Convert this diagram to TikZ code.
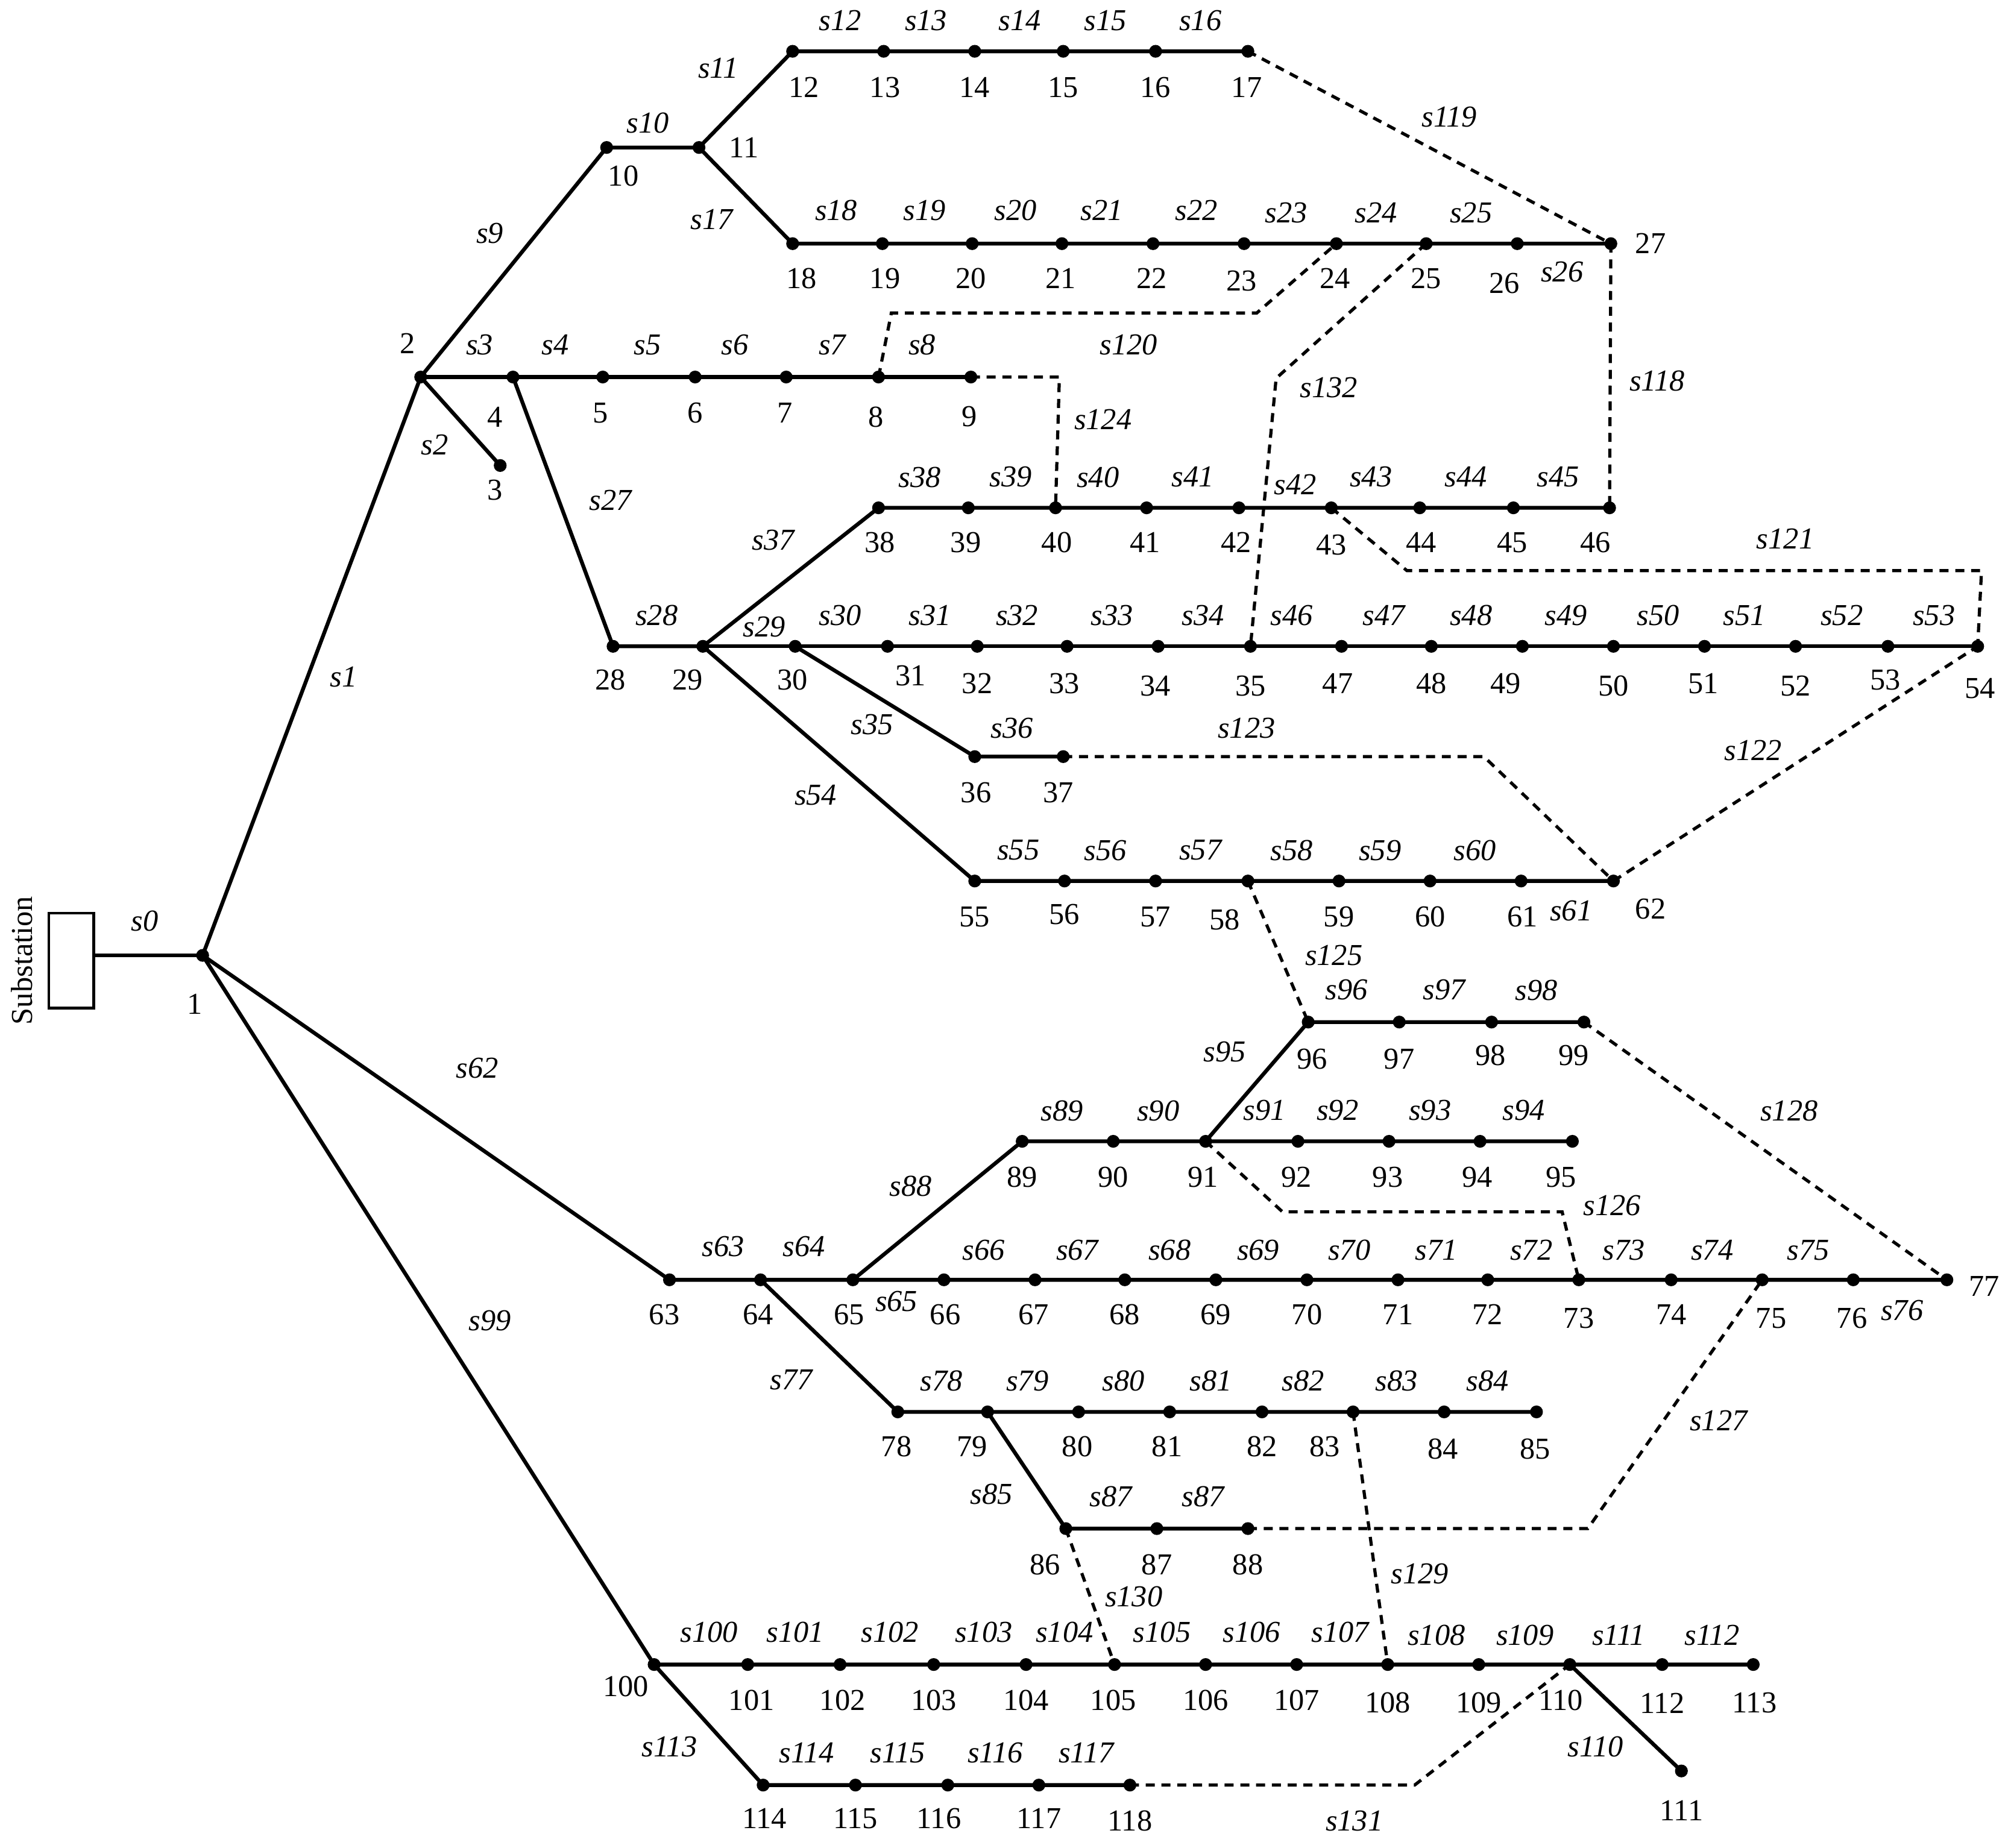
\documentclass[tikz,border=0pt]{standalone}
\usepackage{fontspec}
\setmainfont{Liberation Serif}
\begin{document}
\begin{tikzpicture}[x=0.02cm,y=-0.02cm,
  ln/.style={line width=1.7pt},
  dl/.style={line width=1.4pt,dash pattern=on 4pt off 3pt},
  lab/.style={font=\fontsize{13.5}{15}\selectfont,inner sep=0pt},
  elab/.style={font=\fontsize{13.5}{15}\selectfont\itshape,inner sep=0pt}]
\useasboundingbox (0,0) rectangle (1568,1441);
\foreach \n/\x/\y in {1/158/745,2/328/294,3/390/363,4/400/294,5/470/294,6/542/294,7/613/294,8/685/294,9/757/294,
10/473/115,11/545/115,12/618/40,13/689/40,14/760/40,15/829/40,16/901/40,17/973/40,
18/618/190,19/688/190,20/758/190,21/828/190,22/899/190,23/970/190,24/1042/190,25/1112/190,26/1183/190,27/1256/190,
28/478/504,29/548/504,30/620/504,31/692/504,32/762/504,33/832/504,34/903/504,35/975/504,47/1046/504,48/1116/504,49/1187/504,50/1258/504,51/1329/504,52/1400/504,53/1472/504,54/1542/504,
38/685/396,39/755/396,40/823/396,41/894/396,42/966/396,43/1038/396,44/1107/396,45/1180/396,46/1255/396,
36/760/590,37/829/590,
55/760/687,56/830/687,57/901/687,58/973/687,59/1044/687,60/1115/687,61/1186/687,62/1258/687,
96/1020/797,97/1091/797,98/1163/797,99/1235/797,
89/797/890,90/868/890,91/940/890,92/1012/890,93/1083/890,94/1154/890,95/1226/890,
63/522/998,64/593/998,65/665/998,66/736/998,67/807/998,68/877/998,69/948/998,70/1019/998,71/1090/998,72/1160/998,73/1231/998,74/1303/998,75/1374/998,76/1445/998,77/1518/998,
78/700/1101,79/770/1101,80/841/1101,81/912/1101,82/984/1101,83/1055/1101,84/1126/1101,85/1198/1101,
86/831/1192,87/902/1192,88/973/1192,
100/510/1298,101/583/1298,102/655/1298,103/728/1298,104/800/1298,105/869/1298,106/940/1298,107/1011/1298,108/1082/1298,109/1153/1298,110/1224/1298,112/1296/1298,113/1367/1298,
111/1311/1381,114/595/1392,115/667/1392,116/739/1392,117/810/1392,118/881/1392}
  \coordinate (n\n) at (\x,\y);
% substation
\draw[line width=1.2pt] (38,712) rectangle (73,786);
\coordinate (sub) at (73,745);
\node[lab,rotate=90] (subl) at (17,749) {Substation};
% solid lines
\draw[ln] (sub) -- (n1);
\draw[ln] (n1) -- (n2) -- (n3);
\draw[ln] (n2) -- (n4) -- (n5) -- (n6) -- (n7) -- (n8) -- (n9);
\draw[ln] (n2) -- (n10) -- (n11) -- (n12) -- (n13) -- (n14) -- (n15) -- (n16) -- (n17);
\draw[ln] (n11) -- (n18) -- (n19) -- (n20) -- (n21) -- (n22) -- (n23) -- (n24) -- (n25) -- (n26) -- (n27);
\draw[ln] (n4) -- (n28) -- (n29) -- (n38) -- (n39) -- (n40) -- (n41) -- (n42) -- (n43) -- (n44) -- (n45) -- (n46);
\draw[ln] (n29) -- (n30) -- (n31) -- (n32) -- (n33) -- (n34) -- (n35) -- (n47) -- (n48) -- (n49) -- (n50) -- (n51) -- (n52) -- (n53) -- (n54);
\draw[ln] (n30) -- (n36) -- (n37);
\draw[ln] (n29) -- (n55) -- (n56) -- (n57) -- (n58) -- (n59) -- (n60) -- (n61) -- (n62);
\draw[ln] (n1) -- (n63) -- (n64) -- (n65) -- (n66) -- (n67) -- (n68) -- (n69) -- (n70) -- (n71) -- (n72) -- (n73) -- (n74) -- (n75) -- (n76) -- (n77);
\draw[ln] (n64) -- (n78) -- (n79) -- (n80) -- (n81) -- (n82) -- (n83) -- (n84) -- (n85);
\draw[ln] (n79) -- (n86) -- (n87) -- (n88);
\draw[ln] (n65) -- (n89) -- (n90) -- (n91) -- (n92) -- (n93) -- (n94) -- (n95);
\draw[ln] (n91) -- (n96) -- (n97) -- (n98) -- (n99);
\draw[ln] (n1) -- (n100) -- (n101) -- (n102) -- (n103) -- (n104) -- (n105) -- (n106) -- (n107) -- (n108) -- (n109) -- (n110) -- (n112) -- (n113);
\draw[ln] (n110) -- (n111);
\draw[ln] (n100) -- (n114) -- (n115) -- (n116) -- (n117) -- (n118);
% dashed tie lines
\draw[dl] (n17) -- (n27);
\draw[dl] (n8) -- (695,244) -- (980,244) -- (n24);
\draw[dl] (n9) -- (826,294) -- (n40);
\draw[dl] (n25) -- (995,295) -- (n35);
\draw[dl] (n27) -- (n46);
\draw[dl] (n43) -- (1097,445) -- (1545,445) -- (n54);
\draw[dl] (n37) -- (1157,590) -- (n62);
\draw[dl] (n62) -- (n54);
\draw[dl] (n58) -- (n96);
\draw[dl] (n99) -- (n77);
\draw[dl] (n91) -- (1000,945) -- (1218,945) -- (n73);
\draw[dl] (n88) -- (1238,1192) -- (n75);
\draw[dl] (n83) -- (n108);
\draw[dl] (n86) -- (n105);
\draw[dl] (n118) -- (1103,1392) -- (n110);
% dots
\foreach \n in {1,...,118}{\fill (n\n) circle (5);}
% node numbers
\foreach \t/\x/\y in {1/152/783,2/318/268,3/386/382,4/386/325,5/468/322,6/542/322,7/612/322,8/683/325,9/756/325,10/486/137,11/580/115,12/627/68,13/690/68,14/760/68,15/829/68,16/901/68,17/972/68,18/625/217,19/690/217,20/757/217,21/827/217,22/898/217,23/968/219,24/1041/217,25/1112/217,26/1173/221,27/1287/190,28/476/530,29/536/530,30/618/530,31/710/527,32/762/533,33/830/533,34/901/535,35/975/535,47/1043/533,48/1116/533,49/1174/533,50/1258/535,51/1328/533,52/1400/535,53/1470/530,54/1544/537,38/686/423,39/753/423,40/824/423,41/893/423,42/964/423,43/1038/425,44/1108/423,45/1179/423,46/1244/423,36/761/618,37/825/618,55/760/715,56/830/713,57/901/715,58/955/717,59/1044/715,60/1115/715,61/1187/715,62/1287/709,96/1023/826,97/1091/826,98/1162/823,99/1227/823,89/797/918,90/868/918,91/938/918,92/1011/918,93/1082/918,94/1152/918,95/1217/918,63/518/1025,64/591/1025,65/662/1025,66/737/1025,67/806/1025,68/877/1025,69/948/1025,70/1019/1025,71/1090/1025,72/1160/1025,73/1231/1028,74/1303/1025,75/1381/1028,76/1444/1028,77/1547/1003,78/699/1128,79/758/1128,80/840/1128,81/910/1128,82/984/1128,83/1033/1128,84/1125/1130,85/1197/1130,86/815/1220,87/902/1220,88/973/1220,100/488/1315,101/586/1326,102/657/1326,103/728/1326,104/800/1326,105/868/1326,106/940/1326,107/1011/1326,108/1082/1328,109/1153/1328,110/1217/1326,112/1296/1328,113/1368/1328,111/1311/1412,114/596/1418,115/667/1418,116/732/1418,117/810/1418,118/881/1420}
  \node[lab] (l\t) at (\x,\y) {\t};
% edge labels
\foreach \t/\x/\y in {0/113/718,1/268/528,2/339/347,3/374/269,4/433/269,5/505/269,6/573/269,7/649/269,8/719/269,9/382/182,10/505/96,11/560/53,12/655/16,13/722/16,14/795/16,15/862/16,16/936/16,17/555/171,18/652/164,19/721/164,20/792/164,21/859/164,22/933/164,23/1003/166,24/1073/166,25/1147/166,26/1218/212,27/476/390,28/512/480,29/596/489,30/655/480,31/725/480,32/793/480,33/867/480,34/938/480,46/1007/480,47/1079/480,48/1147/480,49/1221/480,50/1293/480,51/1360/480,52/1436/480,53/1508/480,35/680/565,36/789/568,37/603/421,38/717/372,39/788/372,40/856/372,41/930/372,42/1010/378,43/1069/372,44/1143/372,45/1215/372,54/636/620,55/794/663,56/862/663,57/936/663,58/1007/663,59/1076/663,60/1150/663,61/1225/710,62/372/833,63/564/972,64/627/972,65/699/1015,66/767/975,67/840/975,68/912/975,69/981/975,70/1052/975,71/1120/975,72/1194/975,73/1266/975,74/1335/975,75/1410/975,76/1483/1022,77/617/1076,78/734/1077,79/801/1077,80/876/1077,81/944/1077,82/1016/1077,83/1089/1077,84/1160/1077,85/773/1165,87/866/1167,87/938/1167,88/710/925,89/828/866,90/903/866,91/986/866,92/1043/866,93/1115/866,94/1188/866,95/955/820,96/1050/772,97/1126/772,98/1198/772,99/382/1030,100/553/1273,101/620/1273,102/694/1273,103/767/1273,104/830/1273,105/906/1273,106/976/1273,107/1045/1273,108/1120/1275,109/1189/1275,111/1262/1275,112/1335/1275,110/1244/1362,113/522/1362,114/629/1367,115/700/1367,116/776/1367,117/847/1367,118/1292/297,119/1130/91,120/880/269,121/1392/420,122/1367/585,123/972/568,124/860/327,125/1040/745,126/1257/940,127/1340/1108,128/1395/866,129/1107/1227,130/884/1245,131/1056/1420,132/1036/302}
  \node[elab] (e\t) at (\x,\y) {s\t};
\end{tikzpicture}
\end{document}
